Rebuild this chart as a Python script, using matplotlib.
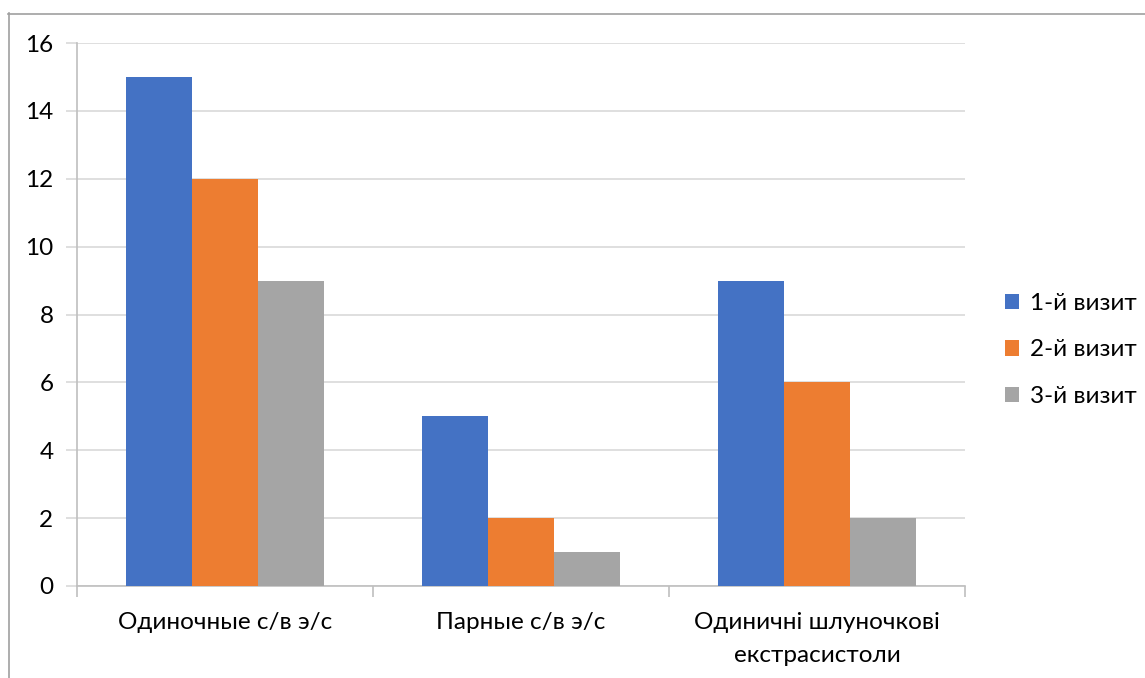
import matplotlib
matplotlib.use("Agg")
import matplotlib.pyplot as plt
from matplotlib.lines import Line2D
import numpy as np

categories = ["Одиночные с/в э/с", "Парные с/в э/с", "Одиничні шлуночкові\nекстрасистоли"]
series_names = ["1-й визит", "2-й визит", "3-й визит"]
visit1 = [15, 5, 9]
visit2 = [12, 2, 6]
visit3 = [9, 1, 2]
yticks = [0, 2, 4, 6, 8, 10, 12, 14, 16]

colors = ["#4472C4", "#ED7D31", "#A5A5A5"]
plt.rcParams['font.family'] = ['Lato', 'DejaVu Sans']
FS = 17.5

W, H = 1145, 678
fig = plt.figure(figsize=(W / 100, H / 100), dpi=100)
ax = fig.add_axes([77 / W, 1 - 586 / H, (965 - 77) / W, (586 - 43) / H])

x = np.arange(len(categories))
bw = 66 / 295
for i, (vals, name) in enumerate(zip([visit1, visit2, visit3], series_names)):
    ax.bar(x + (i - 1) * bw, vals, width=bw, color=colors[i], label=name, zorder=3)

ax.set_xlim(-0.5, 2.5)
ax.set_ylim(0, 16)
ax.set_yticks(yticks)
ax.set_yticklabels([str(v) for v in yticks])
ax.set_xticks(x)
ax.set_xticklabels(categories, linespacing=1.7)
ax.tick_params(axis='x', length=0, pad=19, labelsize=FS, colors='#000000')
ax.set_xticks([-0.5, 0.5, 1.5, 2.5], minor=True)
ax.tick_params(axis='x', which='minor', length=8, color='#BFBFBF', width=1.2)
ax.tick_params(axis='y', length=8, color='#D9D9D9', width=1.2, pad=9, labelsize=FS)

ax.grid(axis='y', color='#D9D9D9', linewidth=1.2, zorder=0)
for s in ['top', 'right']:
    ax.spines[s].set_visible(False)
ax.spines['left'].set_color('#BFBFBF')
ax.spines['left'].set_linewidth(1.2)
ax.spines['bottom'].set_color('#BFBFBF')
ax.spines['bottom'].set_linewidth(1.2)

leg = fig.legend(loc='center left', bbox_to_anchor=(995 / W, 1 - 350 / H), frameon=False,
                 handlelength=0.6, handleheight=0.6, handletextpad=0.45,
                 labelspacing=1.05, fontsize=FS, borderaxespad=0)

# outer frame
fig.add_artist(Line2D([8.5 / W, 8.5 / W], [0, 1 - 13 / H], color='#A0A0A0', linewidth=1.2))
fig.add_artist(Line2D([8 / W, 1], [1 - 13.5 / H, 1 - 13.5 / H], color='#A0A0A0', linewidth=1.2))

fig.savefig("out.png", dpi=100)
